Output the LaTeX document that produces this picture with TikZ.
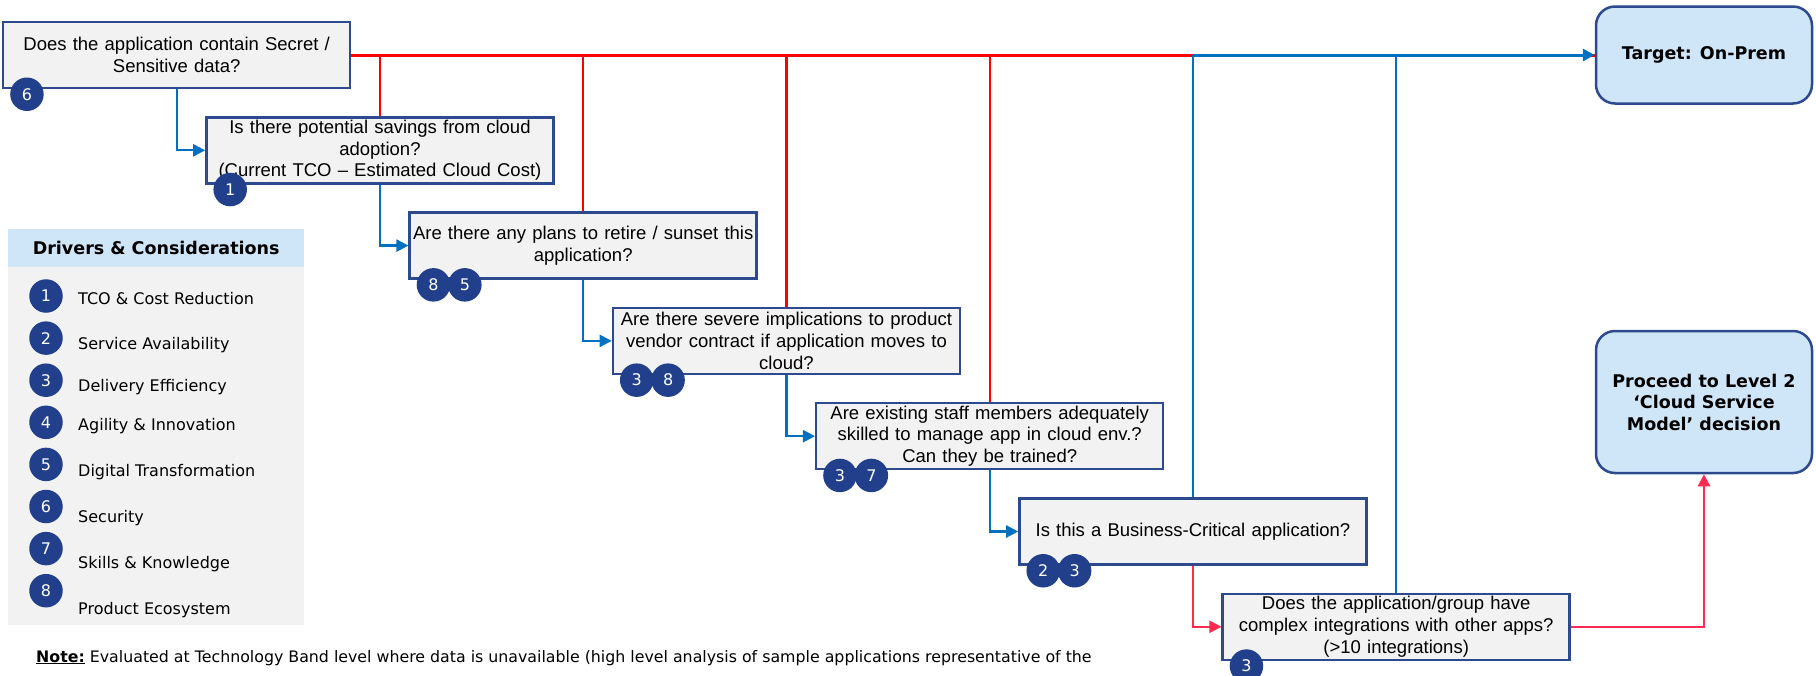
\documentclass[tikz,border=0pt]{standalone}
\usepackage{fontspec}
\usepackage{xcolor}
\usetikzlibrary{shapes,positioning,arrows.meta,calc}
\setmainfont{DejaVu Sans}
\newfontfamily\arialfont{Liberation Sans}

\definecolor{boxborder}{HTML}{2E4A8E}
\definecolor{boxfill}{HTML}{F2F2F2}
\definecolor{badgeblue}{HTML}{213F8B}
\definecolor{flowblue}{HTML}{0070C0}
\definecolor{noflow}{HTML}{FF0000}
\definecolor{yesflow}{HTML}{FF2B4E}
\definecolor{targetfill}{HTML}{CFE5F8}

\begin{document}
\begin{tikzpicture}[x=1pt,y=-1pt]

	\tikzstyle{qbox}=[draw=boxborder, fill=boxfill, line width=2.5pt, rectangle, minimum width=347pt, minimum height=66pt, text width=343pt, align=center, inner xsep=2pt, inner ysep=0pt, font=\arialfont\fontsize{18.5pt}{21.7pt}\selectfont];
	\tikzstyle{badge}=[circle, fill=badgeblue, text=white, minimum size=33.5pt, inner sep=0pt, font=\fontsize{16pt}{16pt}\selectfont];
	\tikzstyle{endbox}=[draw=boxborder, fill=targetfill, line width=2.5pt, rounded corners=19pt, minimum width=216pt, align=center, font=\bfseries\fontsize{17.5pt}{21.5pt}\selectfont];
	\tikzstyle{blue_line}=[draw=flowblue, line width=2.3pt];
	\tikzstyle{red_line}=[draw=noflow, line width=2.3pt];
	\tikzstyle{pink_line}=[draw=yesflow, line width=2.3pt];

	\useasboundingbox (0,0) rectangle (1816,675);

	% question steps
	\node (q_secret) at (176.7,55) [qbox]{Does the application contain Secret /\\Sensitive data?};
	\node (q_savings) [below right = 26.8pt and 28.5pt of q_secret.south, qbox]{Is there potential savings from cloud\\adoption?\\(Current TCO – Estimated Cloud Cost)};
	\node (q_retire) [below right = 26.8pt and 28.5pt of q_savings.south, qbox]{Are there any plans to retire / sunset this\\application?};
	\node (q_vendor) [below right = 26.8pt and 28.5pt of q_retire.south, qbox]{Are there severe implications to product\\vendor contract if application moves to\\cloud?};
	\node (q_skills) [below right = 26.8pt and 28.5pt of q_vendor.south, qbox]{Are existing staff members adequately\\skilled to manage app in cloud env.?\\Can they be trained?};
	\node (q_critical) [below right = 26.8pt and 28.5pt of q_skills.south, qbox]{Is this a Business-Critical application?};
	\node (q_integr) [below right = 26.8pt and 28.5pt of q_critical.south, qbox]{Does the application/group have\\complex integrations with other apps?\\(>10 integrations)};

	% outcomes
	\node (on_prem) at (1704,55) [endbox, minimum height=97pt]{Target: On-Prem};
	\node (level_two) at (1704,402) [endbox, minimum height=142pt]{Proceed to Level 2\\‘Cloud Service\\Model’ decision};

	% driver badges
	\node (badge_secret) at ([shift={(25pt,-5pt)}]q_secret.south west) [badge]{6};
	\node (badge_savings) at ([shift={(25pt,-5pt)}]q_savings.south west) [badge]{1};
	\node (badge_retire_a) at ([shift={(25pt,-5pt)}]q_retire.south west) [badge]{8};
	\node (badge_retire_b) [right = -2.5pt of badge_retire_a, badge]{5};
	\node (badge_vendor_a) at ([shift={(25pt,-5pt)}]q_vendor.south west) [badge]{3};
	\node (badge_vendor_b) [right = -2.5pt of badge_vendor_a, badge]{8};
	\node (badge_skills_a) at ([shift={(25pt,-5pt)}]q_skills.south west) [badge]{3};
	\node (badge_skills_b) [right = -2.5pt of badge_skills_a, badge]{7};
	\node (badge_critical_a) at ([shift={(25pt,-5pt)}]q_critical.south west) [badge]{2};
	\node (badge_critical_b) [right = -2.5pt of badge_critical_a, badge]{3};
	\node (badge_integr) at ([shift={(25pt,-5pt)}]q_integr.south west) [badge]{3};

	% legend
	\node (legend_head) at (156.2,248) [fill=targetfill, minimum width=295.7pt, minimum height=38pt, font=\bfseries\fontsize{17.5pt}{17.5pt}\selectfont]{Drivers \& Considerations};
	\node (legend_body) [below = 0pt of legend_head, fill=boxfill, minimum width=295.7pt, minimum height=358pt]{};
	\foreach \num/\lbl/\ly in {1/TCO \& Cost Reduction/299, 2/Service Availability/344, 3/Delivery Efficiency/386, 4/Agility \& Innovation/425, 5/Digital Transformation/471, 6/Security/517, 7/Skills \& Knowledge/563, 8/Product Ecosystem/609}{
		\node (legend_badge_\num) at (46,{296+42.1*(\num-1)}) [badge]{\num};
		\node (legend_text_\num) at (78,{\ly+5.8}) [anchor=base west, inner sep=0pt, font=\fontsize{16pt}{16pt}\selectfont]{\lbl};
	}

	\node (note) at (36,662) [anchor=base west, inner sep=0pt, font=\fontsize{15.8pt}{15.8pt}\selectfont]{\underline{\textbf{Note:}} Evaluated at Technology Band level where data is unavailable (high level analysis of sample applications representative of the};

	\begin{scope}[>={Triangle[length=12pt,width=12pt]}]

		% "yes" answers along the top
		\draw[red_line, line width=3pt] (q_secret.east) -- (on_prem.west);
		\foreach \q in {q_savings,q_retire,q_vendor,q_skills}
			\draw[red_line] (\q.north) -- (\q.north |- q_secret.east);

		% "no" answers down the steps
		\draw[blue_line, ->] (q_secret.south) |- (q_savings.west);
		\draw[blue_line, ->] (q_savings.south) |- (q_retire.west);
		\draw[blue_line, ->] (q_retire.south) |- (q_vendor.west);
		\draw[blue_line, ->] (q_vendor.south) |- (q_skills.west);
		\draw[blue_line, ->] (q_skills.south) |- (q_critical.west);
		\draw[blue_line] (q_integr.north) -- (q_integr.north |- on_prem.west);
		\draw[blue_line] (q_critical.north) -- (q_critical.north |- on_prem.west);
		\draw[blue_line, line width=3pt, ->, yshift=0.8pt] (q_critical.north |- on_prem.west) -- (on_prem.west);

		\draw[pink_line, ->] (q_critical.south) |- (q_integr.west);
		\draw[pink_line, ->] (q_integr.east) -| (level_two.south);

	\end{scope}
\end{tikzpicture}
\end{document}
